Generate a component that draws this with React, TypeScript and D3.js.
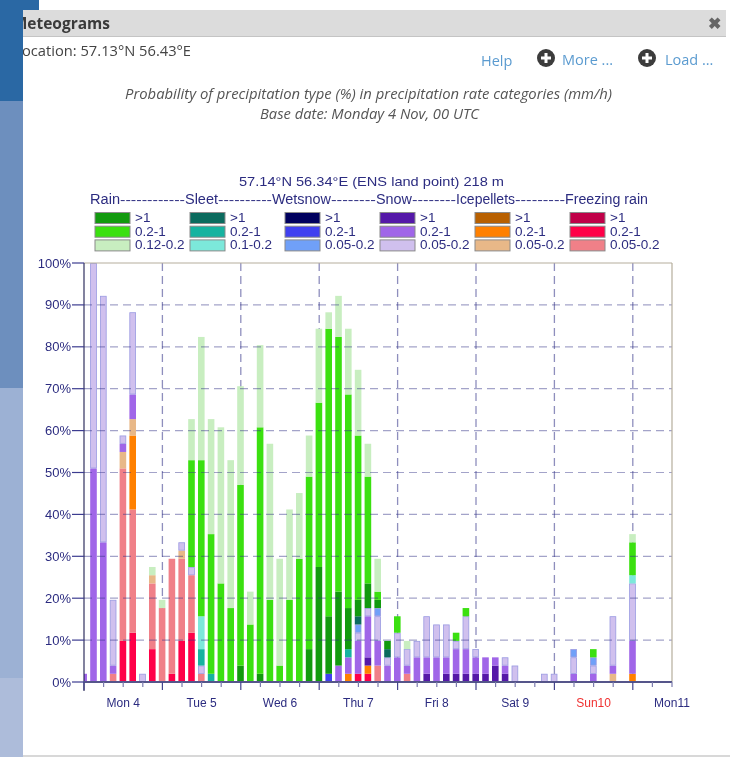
import React from "react";
import * as d3 from "d3";

// Every series: [3-hour step, number of ensemble members out of 51]
const ENSEMBLE_SIZE = 51;
const STEP_HOURS = 3;
const freezingHigh: number[][] = [];
const freezingMid = [[4,5],[5,6],[7,4],[9,1],[10,5],[11,6],[28,1],[29,1]];
const freezingLow = [[3,1],[4,21],[5,15],[7,8],[8,9],[9,14],[10,10],[11,7],[12,1],[30,2],[33,1]];
const iceHigh: number[][] = [];
const iceMid = [[5,9],[27,1],[29,1],[56,1]];
const iceLow = [[4,2],[5,2],[7,1],[10,1],[54,1]];
const snowHigh = [[29,1],[35,1],[37,1],[38,1],[39,1],[40,1],[41,1],[42,2],[43,1]];
const snowMid = [[0,1],[1,26],[2,17],[3,1],[4,1],[5,3],[26,2],[27,2],[28,4],[29,5],[30,3],[31,2],[32,3],[33,1],[34,3],[35,2],[36,3],[37,2],[38,3],[39,3],[40,2],[41,2],[42,1],[43,1],[50,1],[52,1],[54,1],[56,4]];
const snowLow = [[1,25],[2,30],[3,8],[4,1],[5,10],[6,1],[10,1],[11,1],[12,1],[28,1],[29,1],[30,3],[31,1],[32,3],[33,2],[34,2],[35,5],[36,4],[37,4],[38,1],[39,4],[40,1],[43,1],[44,2],[47,1],[48,1],[50,2],[52,1],[54,6],[56,7]];
const wetHigh: number[][] = [];
const wetMid = [[25,1]];
const wetLow = [[28,1],[30,1],[50,1],[52,1]];
const sleetHigh = [[28,1],[31,1]];
const sleetMid = [[12,2],[13,1],[27,1]];
const sleetLow = [[12,4],[56,1]];
const rainHigh = [[16,2],[18,1],[23,4],[24,14],[25,7],[26,9],[27,5],[28,2],[29,3],[30,1],[31,1]];
const rainMid = [[11,13],[12,19],[13,17],[14,12],[15,9],[16,22],[17,7],[18,30],[19,10],[20,2],[21,10],[22,15],[23,21],[24,20],[25,35],[26,31],[27,26],[28,20],[29,13],[30,1],[32,2],[38,1],[39,1],[52,1],[56,4]];
const rainLow = [[7,1],[8,1],[11,5],[12,15],[13,14],[14,19],[15,18],[16,12],[17,4],[18,10],[19,19],[20,13],[21,11],[22,8],[23,5],[24,9],[25,2],[26,5],[27,8],[28,8],[29,4],[30,4],[33,1],[56,1]];

const yTicks = [0,10,20,30,40,50,60,70,80,90,100];
const dayLabels = ["Mon 4","Tue 5","Wed 6","Thu 7","Fri 8","Sat 9","Sun10","Mon11"];
// word, left edge, width of the word in the legend header
const legendWords: [string, number, number][] = [
  ["Rain", 90, 30], ["Sleet", 185, 33], ["Wetsnow", 272, 59],
  ["Snow", 376, 36], ["Icepellets", 456, 59], ["Freezing rain", 565, 83],
];
const legendDashes = ["------------","----------","--------","--------","---------"];
const legendRows = [
  [">1","0.2-1","0.12-0.2"],
  [">1","0.2-1","0.1-0.2"],
  [">1","0.2-1","0.05-0.2"],
  [">1","0.2-1","0.05-0.2"],
  [">1","0.2-1","0.05-0.2"],
  [">1","0.2-1","0.05-0.2"],
];
const legendColors = [
  ["#129a0e","#3be010","#c8eec0"],
  ["#0b6b5e","#16b3a0","#7ce8da"],
  ["#00005e","#4040f0","#70a0f8"],
  ["#5518a8","#a066e8","#d0c0ee"],
  ["#b86000","#ff8000","#e8b888"],
  ["#c00048","#ff0048","#f08088"],
];

// Stack order, bottom to top
const seriesList: [string, number[][], string][] = [
  ["frzH", freezingHigh, legendColors[5][0]],
  ["frzM", freezingMid, legendColors[5][1]],
  ["frzL", freezingLow, legendColors[5][2]],
  ["iceH", iceHigh, legendColors[4][0]],
  ["iceM", iceMid, legendColors[4][1]],
  ["iceL", iceLow, legendColors[4][2]],
  ["snowH", snowHigh, legendColors[3][0]],
  ["snowM", snowMid, legendColors[3][1]],
  ["snowL", snowLow, legendColors[3][2]],
  ["wetH", wetHigh, legendColors[2][0]],
  ["wetM", wetMid, legendColors[2][1]],
  ["wetL", wetLow, legendColors[2][2]],
  ["sleetH", sleetHigh, legendColors[1][0]],
  ["sleetM", sleetMid, legendColors[1][1]],
  ["sleetL", sleetLow, legendColors[1][2]],
  ["rainH", rainHigh, legendColors[0][0]],
  ["rainM", rainMid, legendColors[0][1]],
  ["rainL", rainLow, legendColors[0][2]],
];

const steps = d3.range(0, 57);
const table = steps.map((s) => {
  const row: Record<string, number> = { step: s };
  seriesList.forEach(([k, arr]) => {
    const hit = arr.find((p) => p[0] === s);
    row[k] = hit ? (hit[1] * 100) / ENSEMBLE_SIZE : 0;
  });
  return row;
});
const stacked = d3.stack().keys(seriesList.map((s) => s[0]))(table as any);

const L = 84, R = 672, T = 263, B = 682;
const x = d3.scaleLinear().domain([0, 180]).range([L, R]);
const y = d3.scaleLinear().domain([0, 100]).range([B, T]);
const barW = 6.6;
const navy = "#2c2c80";
const sans = "'Liberation Sans', Arial, sans-serif";
const open = "'Open Sans', sans-serif";

const days = d3.range(0, 8);
const minor = d3.range(0, 181, 6);

export default function App() {
  return (
    <svg width={730} height={757} viewBox="0 0 730 757"
      style={{ position: "absolute", left: 0, top: 0, filter: "blur(0.5px)" }}>
      <defs>
        <clipPath id="plot"><rect x={L} y={T} width={R - L} height={B - T} /></clipPath>
        <clipPath id="panel"><rect x={23} y={0} width={707} height={757} /></clipPath>
      </defs>
      <rect width={730} height={757} fill="#fff" />
      {/* page behind the dialog */}
      <rect x={0} y={0} width={39} height={10} fill="#2a68a4" />
      <rect x={0} y={0} width={23} height={101} fill="#2a68a4" />
      <rect x={0} y={101} width={23} height={287} fill="#6d8fbe" />
      <rect x={0} y={388} width={23} height={290} fill="#9cb1d4" />
      <rect x={0} y={678} width={23} height={79} fill="#adbcda" />
      <rect x={23} y={755} width={707} height={2} fill="#d8d8d8" />
      {/* dialog header */}
      <rect x={23} y={10} width={703} height={27} fill="#dcdcdc" />
      <rect x={23} y={36} width={703} height={1} fill="#c4c4c4" />
      <g clipPath="url(#panel)" fontFamily={open}>
        <text x={110} y={29} textAnchor="end" fontSize={15.5} fontWeight={700} fill="#3a3a3a">Meteograms</text>
        <text x={191} y={56} textAnchor="end" fontSize={14.7} fill="#444">Location: 57.13°N 56.43°E</text>
      </g>
      <text x={714} y={29} textAnchor="middle" fontFamily={open} fontWeight={700} fontSize={16} fill="#666">✖</text>
      <g fontFamily={open} fontSize={14.5} fill="#5b9bd0">
        <text x={481} y={66}>Help</text>
        <text x={562} y={65}>More ...</text>
        <text x={665} y={65}>Load ...</text>
      </g>
      {[546, 647].map((cx) => (
        <g key={cx}>
          <circle cx={cx} cy={58} r={9} fill="#3c3c3c" />
          <rect x={cx - 5} y={56.5} width={10} height={3} fill="#fff" />
          <rect x={cx - 1.5} y={53} width={3} height={10} fill="#fff" />
        </g>
      ))}
      <g fontFamily={open} fontStyle="italic" fontSize={14.5} fill="#555" textAnchor="middle">
        <text x={368.5} y={99} textLength={487} lengthAdjust="spacingAndGlyphs">Probability of precipitation type (%) in precipitation rate categories (mm/h)</text>
        <text x={369.5} y={119} textLength={219} lengthAdjust="spacingAndGlyphs">Base date: Monday 4 Nov, 00 UTC</text>
      </g>
      {/* chart title and legend */}
      <g fontFamily={sans} fill={navy}>
        <text x={371.5} y={185.5} fontSize={13.5} textAnchor="middle" textLength={265} lengthAdjust="spacingAndGlyphs">57.14°N 56.34°E (ENS land point) 218 m</text>
        {legendWords.map(([w, wx, ww], i) => (
          <g key={w}>
            <text x={wx} y={204} fontSize={14} textLength={ww} lengthAdjust="spacingAndGlyphs">{w}</text>
            {i < legendDashes.length && (
              <text x={wx + ww} y={204} fontSize={13} textLength={legendWords[i + 1][1] - wx - ww} lengthAdjust="spacingAndGlyphs">{legendDashes[i]}</text>
            )}
          </g>
        ))}
        {legendColors.map((col, c) => {
          const lx = 95 + c * 95;
          return (
            <g key={c}>
              {col.map((color, r) => (
                <g key={r}>
                  <rect x={lx} y={212.5 + r * 13.7} width={35} height={11} fill={color} stroke="#8a8a8a" strokeWidth={1} />
                  <text x={lx + 40} y={222 + r * 13.7} fontSize={13.5}>{legendRows[c][r]}</text>
                </g>
              ))}
            </g>
          );
        })}
      </g>
      {/* vertical grid lies under the bars */}
      <g stroke="rgba(50,50,135,0.55)" strokeWidth={1.3} strokeDasharray="8 5">
        {days.slice(1).map((d) => (
          <line key={d} x1={x(d * 24)} x2={x(d * 24)} y1={T} y2={B} />
        ))}
      </g>
      {/* bars */}
      <g clipPath="url(#plot)">
        {stacked.map((layer: any, li: number) => (
          <g key={layer.key} fill={seriesList[li][2]}>
            {layer.filter((d: any) => d[1] > d[0]).map((d: any) => {
              const outlined = layer.key === "snowL" || layer.key === "wetL";
              const inset = outlined ? 0.4 : 0;
              return (
                <rect key={d.data.step}
                  x={x(d.data.step * STEP_HOURS) - 0.3 - barW / 2 + inset}
                  y={y(d[1]) + inset}
                  width={barW - 2 * inset}
                  height={y(d[0]) - y(d[1]) - 2 * inset}
                  stroke={outlined ? "#9a9ae2" : "none"}
                  strokeWidth={outlined ? 0.8 : 0} />
              );
            })}
          </g>
        ))}
      </g>
      {/* horizontal grid lies over the bars */}
      <g stroke="rgba(50,50,135,0.45)" strokeWidth={1.2} strokeDasharray="8 5">
        {yTicks.filter((t) => t > 0 && t < 100).map((t) => (
          <line key={t} x1={L} x2={R} y1={y(t)} y2={y(t)} />
        ))}
      </g>
      {/* frame and axes */}
      <line x1={L} x2={R} y1={T} y2={T} stroke="#b5ad9c" strokeWidth={1} />
      <line x1={R} x2={R} y1={T} y2={B} stroke="#b5ad9c" strokeWidth={1.2} />
      <line x1={L} x2={L} y1={T} y2={B + 9} stroke="#1c1c50" strokeWidth={1.1} />
      <line x1={L} x2={R} y1={B} y2={B} stroke="#55558a" strokeWidth={1.8} />
      {yTicks.map((t) => (
        <g key={t}>
          <line x1={72} x2={L} y1={y(t)} y2={y(t)} stroke="#3c3c90" strokeWidth={1.2} />
          <text x={71} y={y(t) + 4.5} textAnchor="end" fontFamily={sans} fontSize={13} fill={navy}>{t}%</text>
        </g>
      ))}
      {minor.map((h) => (
        <line key={h} x1={x(h)} x2={x(h)} y1={B} y2={h % 24 === 0 ? B + 8 : B + 5}
          stroke={h % 24 === 0 ? "#44448c" : "#7c7cae"} strokeWidth={1.2} />
      ))}
      {dayLabels.map((lab, i) => (
        <text key={lab} x={x(i * 24 + 12)} y={707} textAnchor="middle" fontFamily={sans} fontSize={12}
          fill={lab.startsWith("Sun") ? "#f03030" : navy}>{lab}</text>
      ))}
    </svg>
  );
}
